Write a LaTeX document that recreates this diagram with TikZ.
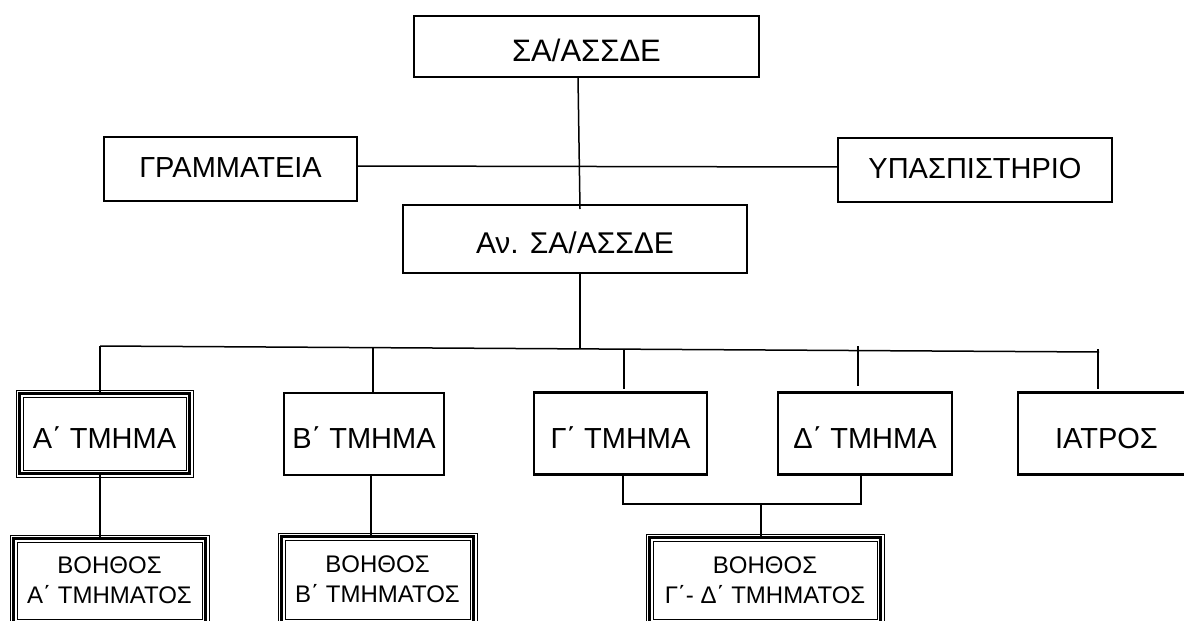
\documentclass[tikz,border=0pt]{standalone}
\usepackage{fontspec}
\setmainfont{Liberation Sans}
\begin{document}
\begin{tikzpicture}[x=1pt,y=-1pt,
  box/.style={draw, line width=2.2pt, outer sep=0pt, inner sep=0pt, font=\fontsize{29}{30}\selectfont, text height=29pt, text depth=0pt},
  raised/.style={text height=21pt, text depth=5pt},
  tri/.style={draw, line width=2.2pt, outer sep=0pt, inner sep=0pt},
  conn/.style={line width=1.5pt},
  helper/.style={tri, align=center, font=\fontsize{24}{30}\selectfont}]
\useasboundingbox (0,0) rectangle (1184,621);
\clip (0,0) rectangle (1184,621);
\newcommand\trifr[1]{%
  \draw[line width=0.9pt] ([shift={(-3.5pt,-3.5pt)}]#1.south west) rectangle ([shift={(3.5pt,3.5pt)}]#1.north east);
  \draw[line width=0.9pt] ([shift={(3.5pt,3.5pt)}]#1.south west) rectangle ([shift={(-3.5pt,-3.5pt)}]#1.north east);}
% top level
\node[box, font=\fontsize{31}{32}\selectfont, text height=30pt, minimum width=345pt, minimum height=61pt] (top) at (586.5,46.5) {ΣΑ/ΑΣΣΔΕ};
\node[box, raised, minimum width=253pt, minimum height=64pt] (gram) at (230.5,169) {ΓΡΑΜΜΑΤΕΙΑ};
\node[box, raised, minimum width=274pt, minimum height=64pt] (ups) at (975,170) {ΥΠΑΣΠΙΣΤΗΡΙΟ};
\node[box, font=\fontsize{30}{31}\selectfont, minimum width=344pt, minimum height=68pt] (av) at (575,239) {Αν. ΣΑ/ΑΣΣΔΕ};
% departments
\node[box, tri, minimum width=170pt, minimum height=80pt] (a) at (104.5,433.5) {Α΄ ΤΜΗΜΑ};
\trifr{a}
\node[box, minimum width=160pt, minimum height=82pt] (b) at (364,434) {Β΄ ΤΜΗΜΑ};
\node[box, minimum width=173pt, minimum height=82pt] (c) at (620.5,433.5) {Γ΄ ΤΜΗΜΑ};
\node[box, minimum width=174pt, minimum height=82pt] (d) at (865,433.5) {Δ΄ ΤΜΗΜΑ};
\node[box, minimum width=177pt, minimum height=82pt] (ia) at (1106.5,433.5) {ΙΑΤΡΟΣ};
% helpers
\node[helper, minimum width=192pt, minimum height=84pt] (ha) at (109.5,580.5) {ΒΟΗΘΟΣ\\Α΄ ΤΜΗΜΑΤΟΣ};
\trifr{ha}
\node[helper, minimum width=192pt, minimum height=86pt] (hb) at (377.5,579.5) {ΒΟΗΘΟΣ\\Β΄ ΤΜΗΜΑΤΟΣ};
\trifr{hb}
\node[helper, minimum width=231pt, minimum height=85pt] (hc) at (765,580) {ΒΟΗΘΟΣ\\Γ΄- Δ΄ ΤΜΗΜΑΤΟΣ};
\trifr{hc}
% connectors
\draw[conn] ([xshift=-8.5pt]top.south) -- ([xshift=5pt,yshift=-4pt]av.north);
\draw[conn] ([yshift=3pt]gram.east) -- ([yshift=3pt]ups.west);
\coordinate (bl) at (100,346);
\coordinate (br) at (1099,352);
\coordinate (bm) at (580,349);
\coordinate (tA) at (100,346);
\coordinate (tB) at (373,348);
\coordinate (tC) at (624,350);
\coordinate (tD) at (858,346);
\coordinate (tI) at (1098,349);
\draw[conn] (bl) -- (br);
\draw[conn] ([xshift=5pt]av.south) -- (bm);
\draw[conn] (tA) -- ([xshift=-4.5pt]a.north);
\draw[conn] (tB) -- ([xshift=9pt]b.north);
\draw[conn] (tC) -- ([xshift=3.5pt,yshift=4pt]c.north);
\draw[conn] (tD) -- ([xshift=-7pt,yshift=7pt]d.north);
\draw[conn] (tI) -- ([xshift=-8.5pt,yshift=4pt]ia.north);
\draw[conn] ([xshift=-4.5pt]a.south) -- ([xshift=-9.5pt]ha.north);
\draw[conn] ([xshift=7pt]b.south) -- ([xshift=-6.5pt]hb.north);
\coordinate (brk) at (761,504);
\draw[conn] ([xshift=2.5pt]c.south) |- (brk) -| ([xshift=-4pt]d.south);
\draw[conn] (brk) -- ([xshift=-4pt]hc.north);
\end{tikzpicture}
\end{document}
